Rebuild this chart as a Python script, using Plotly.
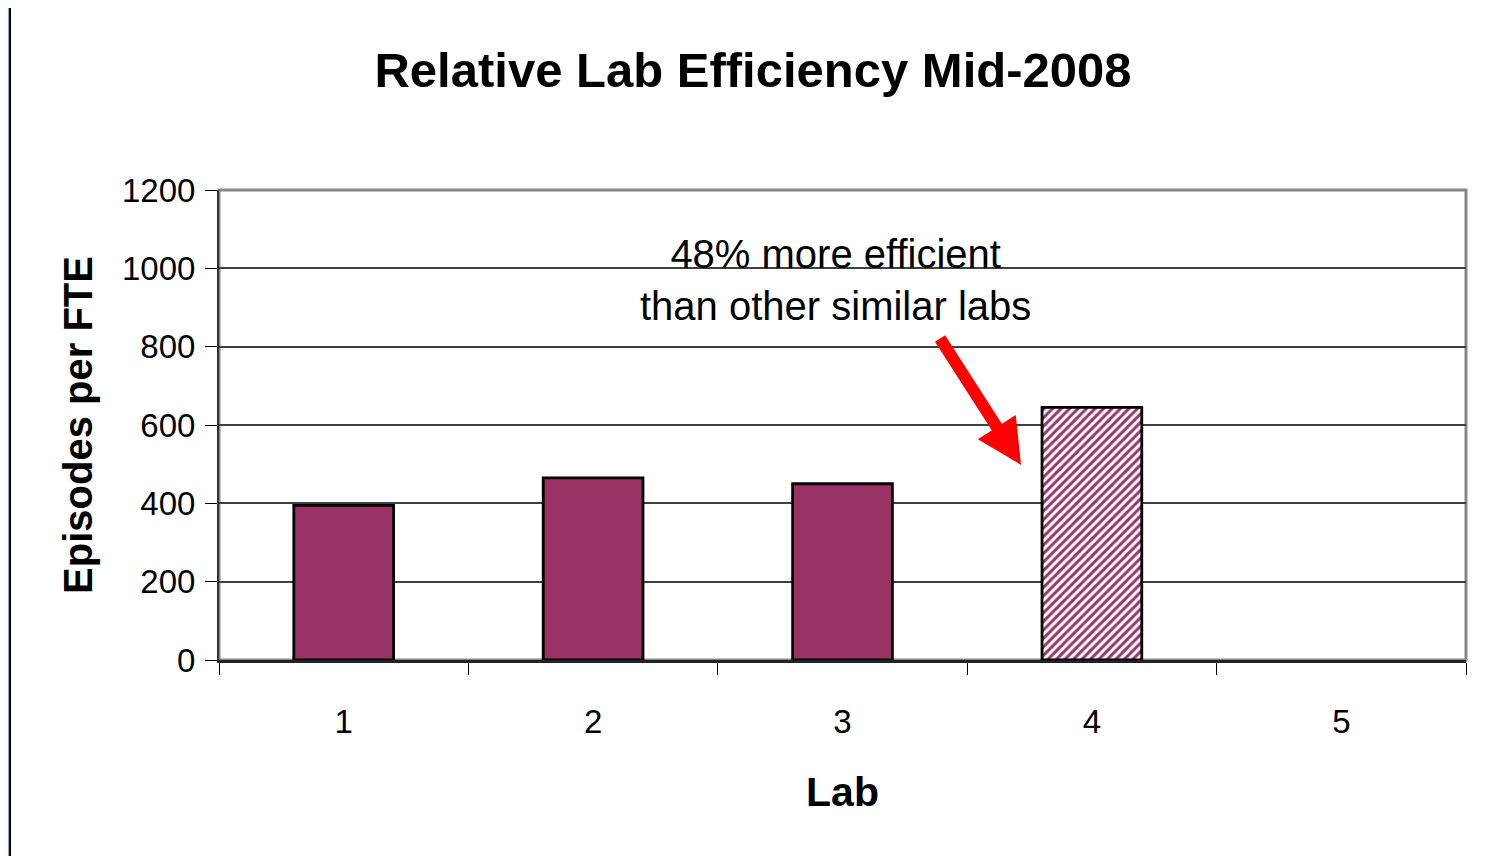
import plotly.graph_objects as go

# data
labs = ["1", "2", "3", "4", "5"]
episodes_per_fte = [395, 465, 450, 645, 0]
highlight = [False, False, False, True, False]

plum = "#993366"
font = "Arial, Liberation Sans, sans-serif"

fig = go.Figure()
fig.add_bar(
    x=labs,
    y=episodes_per_fte,
    width=0.4,
    marker=dict(
        color=plum,
        line=dict(color="black", width=[2.8 if v > 0 else 0 for v in episodes_per_fte]),
        pattern=dict(
            shape=["/" if h else "" for h in highlight],
            fillmode="replace",
            fgcolor=[plum] * len(labs),
            bgcolor=["white"] * len(labs),
            fgopacity=1,
            size=6,
            solidity=0.5,
        ),
    ),
    hoverinfo="x+y",
)

# the page body has an 8px margin, so the figure starts at (8, 8)
W, H = 1485, 856
L, R, T, B = 211, 27, 182, 204
pw, ph = W - L - R, H - T - B


def px(x):
    return (x - 8 - L) / pw


def py(y):
    return (H - B - (y - 8)) / ph


fig.update_layout(
    width=W,
    height=H,
    margin=dict(l=L, r=R, t=T, b=B),
    paper_bgcolor="#7fb2e5",
    plot_bgcolor="white",
    showlegend=False,
    font=dict(family=font, color="black", size=33),
    title=dict(
        text="<b>Relative Lab Efficiency Mid-2008</b>",
        x=(753 - 8) / W,
        xanchor="center",
        y=1 - (70 - 8) / H,
        yanchor="middle",
        font=dict(size=49),
    ),
    shapes=[
        # white slide area with black frame
        dict(type="rect", xref="paper", yref="paper", layer="below",
             x0=px(10), x1=px(W + 40), y0=py(H + 40), y1=py(6),
             fillcolor="white", line=dict(color="black", width=2)),
        # grey plot area border
        dict(type="rect", xref="paper", yref="paper", layer="below",
             x0=0, x1=1, y0=0, y1=1,
             line=dict(color="#868686", width=3)),
    ],
    annotations=[
        dict(
            text="48% more efficient<br>than other similar labs",
            xref="paper", yref="paper",
            x=px(835), y=py(280),
            xanchor="center", yanchor="middle",
            showarrow=False,
            font=dict(size=40),
            align="center",
        ),
        dict(
            text="",
            x=2.716, y=498,
            xref="x", yref="y",
            ax=-82, ay=-128,
            showarrow=True,
            arrowhead=2,
            arrowsize=0.75,
            arrowwidth=12,
            arrowcolor="red",
        ),
    ],
)

fig.update_xaxes(
    type="category",
    tickson="boundaries",
    ticks="outside",
    ticklen=12,
    tickwidth=1.2,
    tickcolor="black",
    showline=True,
    linecolor="#222222",
    linewidth=2.5,
    showgrid=False,
    ticklabelstandoff=31,
    tickfont=dict(size=33),
    title=dict(text="<b>Lab</b>", font=dict(size=41), standoff=38),
)
fig.update_yaxes(
    range=[0, 1200],
    dtick=200,
    ticks="outside",
    ticklen=12,
    tickwidth=1.2,
    tickcolor="black",
    showline=True,
    linecolor="#333333",
    linewidth=2,
    showgrid=True,
    gridcolor="#404040",
    gridwidth=1.5,
    zeroline=False,
    ticklabelstandoff=3,
    tickfont=dict(size=33),
    title=dict(text="<b>Episodes per FTE</b>", font=dict(size=40), standoff=17),
)

fig.write_html("out.html")
